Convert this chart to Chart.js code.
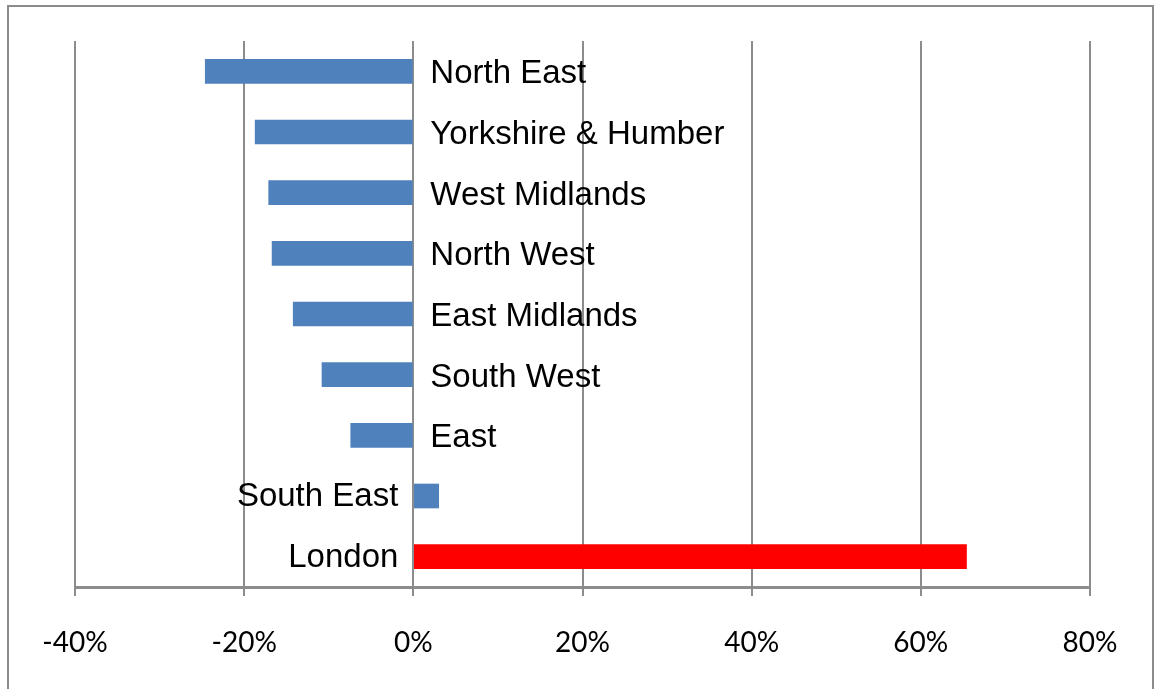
<!DOCTYPE html>
<html lang="en">
<head>
  <meta charset="UTF-8">
  <title>Regional change</title>
  <script src="https://cdn.jsdelivr.net/npm/chart.js"></script>
  <style>
    body {
      margin: 0;
      padding: 0;
      background: #fff;
    }
    .wrap {
      position: relative;
      width: 1154px;
      height: 689px;
    }
  </style>
</head>
<body>
<div class="wrap">
  <canvas id="regionChart" width="1154" height="689"></canvas>
</div>

<script>
  // data
  var regions = ['North East', 'Yorkshire & Humber', 'West Midlands', 'North West',
    'East Midlands', 'South West', 'East', 'South East', 'London'];
  var change = [-24.6, -18.7, -17.1, -16.7, -14.2, -10.8, -7.4, 3.0, 65.4];
  var barColors = ['#4F81BD', '#4F81BD', '#4F81BD', '#4F81BD', '#4F81BD',
    '#4F81BD', '#4F81BD', '#4F81BD', '#FF0000'];
  var tickValues = [-40, -20, 0, 20, 40, 60, 80];

  // outer frame
  var framePlugin = {
    id: 'frame',
    beforeDraw: function (chart) {
      var ctx = chart.ctx;
      ctx.save();
      ctx.fillStyle = '#fff';
      ctx.fillRect(0, 0, chart.width, chart.height);
      ctx.strokeStyle = '#8c8c8c';
      ctx.lineWidth = 2;
      ctx.strokeRect(8, 6, 1145, 700);
      ctx.restore();
    }
  };

  // category names placed next to the zero line
  var labelPlugin = {
    id: 'zeroLabels',
    afterDatasetsDraw: function (chart) {
      var ctx = chart.ctx;
      var zero = chart.scales.x.getPixelForValue(0);
      var meta = chart.getDatasetMeta(0);
      ctx.save();
      ctx.font = '33px "Liberation Sans", Arial, sans-serif';
      ctx.fillStyle = '#000';
      ctx.textBaseline = 'middle';
      meta.data.forEach(function (bar, i) {
        if (change[i] < 0) {
          ctx.textAlign = 'left';
          ctx.fillText(regions[i], zero + 17, bar.y + 3);
        } else {
          ctx.textAlign = 'right';
          ctx.fillText(regions[i], zero - 15, bar.y + 1);
        }
      });
      ctx.restore();
    }
  };

  var ctx = document.getElementById('regionChart').getContext('2d');
  var regionChart = new Chart(ctx, {
    type: 'bar',
    data: {
      labels: regions,
      datasets: [{
        data: change,
        backgroundColor: barColors,
        barThickness: 24
      }]
    },
    options: {
      indexAxis: 'y',
      responsive: false,
      animation: false,
      layout: {
        padding: { left: 75, right: 64, top: 41, bottom: 0 }
      },
      plugins: {
        legend: { display: false },
        tooltip: { enabled: false }
      },
      scales: {
        x: {
          min: -40,
          max: 80,
          afterBuildTicks: function (scale) {
            scale.ticks = tickValues.map(function (v) { return { value: v }; });
          },
          afterFit: function (scale) {
            scale.height = 102;
          },
          grid: {
            color: '#8c8c8c',
            lineWidth: 2,
            tickLength: 9
          },
          border: {
            color: '#8c8c8c',
            width: 3
          },
          ticks: {
            padding: 30,
            color: '#000',
            maxRotation: 0,
            font: { family: 'Lato, "Open Sans", sans-serif', size: 28 },
            callback: function (v) { return v + '%'; }
          }
        },
        y: {
          display: false
        }
      }
    },
    plugins: [framePlugin, labelPlugin]
  });
</script>
</body>
</html>
